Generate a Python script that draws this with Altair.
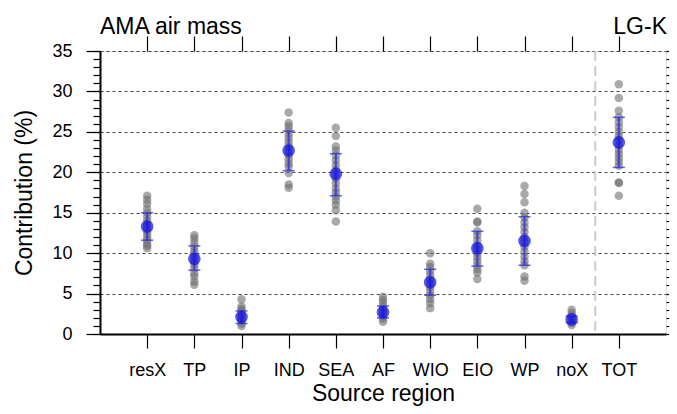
import altair as alt
import pandas as pd

regions = ["resX", "TP", "IP", "IND", "SEA", "AF", "WIO", "EIO", "WP", "noX", "TOT"]

resX = [17.1, 16.6, 16.1, 15.5, 15.0, 14.5, 14.0, 13.6, 13.2, 12.8, 12.4, 12.0, 11.6, 11.2, 10.9, 10.6]
TP = [12.2, 11.8, 11.3, 10.8, 10.3, 9.9, 9.4, 9.0, 8.6, 8.1, 7.5, 7.1, 6.5, 6.1]
IP = [4.3, 3.4, 3.1, 2.8, 2.5, 2.2, 1.9, 1.6, 1.3, 1.0]
IND = [27.4, 26.1, 25.7, 25.2, 24.7, 24.2, 23.7, 23.2, 22.6, 22.1, 21.6, 21.1, 20.7, 19.9, 18.5, 18.1]
SEA = [25.5, 24.5, 23.2, 22.7, 22.1, 21.5, 20.9, 20.3, 19.8, 19.2, 18.6, 18.0, 17.5, 17.0, 16.5, 16.0, 15.3, 13.9]
AF = [4.6, 4.2, 3.8, 3.4, 3.1, 2.8, 2.5, 2.2, 1.9, 1.5]
WIO = [10.0, 8.7, 8.3, 7.8, 7.3, 6.8, 6.3, 5.8, 5.3, 4.8, 4.3, 3.8, 3.2]
EIO = [15.5, 13.9, 13.8, 12.7, 12.2, 11.6, 11.0, 10.5, 10.0, 9.5, 9.0, 8.5, 8.0, 7.6, 6.8]
WP = [18.3, 17.3, 16.3, 15.0, 14.4, 13.8, 13.2, 12.6, 12.0, 11.4, 10.8, 10.2, 9.6, 9.0, 8.5, 7.1, 6.6]
noX = [3.0, 2.6, 2.3, 2.0, 1.7, 1.4, 1.1]
TOT = [30.9, 29.2, 27.6, 26.8, 26.2, 25.6, 25.0, 24.5, 24.0, 23.3, 22.8, 22.3, 21.8, 21.3, 20.8, 18.7, 18.7, 17.1]

means = [13.3, 9.3, 2.1, 22.7, 19.8, 2.7, 6.4, 10.6, 11.5, 1.8, 23.7]
err_lo = [11.6, 7.9, 1.3, 20.2, 17.1, 2.0, 4.8, 8.4, 8.5, 1.4, 20.6]
err_hi = [15.0, 10.9, 2.85, 25.1, 22.3, 3.45, 8.0, 12.7, 14.5, 2.2, 26.8]

y_ticks = [0, 5, 10, 15, 20, 25, 30, 35]
y_minor = list(range(0, 36))
title_left = "AMA air mass"
title_right = "LG-K"

members = [resX, TP, IP, IND, SEA, AF, WIO, EIO, WP, noX, TOT]
rows = []
for i, vals in enumerate(members):
    for v in vals:
        rows.append({"pos": i + 1, "value": v})
pts = pd.DataFrame(rows)
stats = pd.DataFrame({"pos": list(range(1, 12)), "mean": means, "lo": err_lo, "hi": err_hi})

W, H = 566, 283
FONT = "Liberation Sans"
xscale = alt.Scale(domain=[0, 12], nice=False, zero=False)
yscale = alt.Scale(domain=[0, 35], nice=False, zero=False)
label_expr = "[" + ",".join("'%s'" % r for r in regions) + "][round(datum.value)-1]"

points = alt.Chart(pts).mark_circle(size=72, color="#707070", opacity=0.6).encode(
    x=alt.X("pos:Q", scale=xscale, axis=alt.Axis(
        orient="bottom", values=list(range(1, 12)), labelExpr=label_expr,
        title="Source region", titleFontSize=23, titleFont=FONT, titleFontWeight="normal",
        titlePadding=3, labelFontSize=18, labelFont=FONT, labelPadding=13,
        tickSize=14, tickColor="black", tickWidth=1.2, domainColor="black", domainWidth=2,
        grid=False, labelColor="black", titleColor="black")),
    y=alt.Y("value:Q", scale=yscale, axis=alt.Axis(
        orient="left", values=y_ticks, title="Contribution (%)", titleFontSize=23,
        titleFont=FONT, titleFontWeight="normal", titlePadding=15, labelFontSize=18,
        labelFont=FONT, labelPadding=14, tickSize=14, tickColor="black", tickWidth=1.2,
        domainColor="black", domainWidth=2, grid=True, gridDash=[3, 3],
        gridColor="#444444", gridWidth=1, labelColor="black", titleColor="black")),
)

bars = alt.Chart(stats).mark_rule(color="#2b2bf0", strokeWidth=2, opacity=0.75).encode(
    x=alt.X("pos:Q", scale=xscale, axis=alt.Axis(
        orient="top", values=list(range(1, 12)), labels=False, title=None,
        tickSize=15, tickColor="black", tickWidth=1.2, domain=False, grid=False)),
    y=alt.Y("lo:Q", scale=yscale, axis=alt.Axis(
        orient="right", values=y_minor, labels=False, title=None, tickSize=8,
        tickColor="black", tickWidth=1.2, domain=False, grid=False)),
    y2="hi:Q",
)

caps_lo = alt.Chart(stats).mark_tick(orient="horizontal", color="#2b2bf0", size=12,
                                     thickness=1.5, opacity=0.75).encode(
    x=alt.X("pos:Q", scale=xscale, axis=None),
    y=alt.Y("lo:Q", scale=yscale, axis=alt.Axis(
        orient="left", values=y_minor, labels=False, title=None, tickSize=7,
        tickColor="black", tickWidth=1.2, domain=False, grid=False)),
)
caps_hi = alt.Chart(stats).mark_tick(orient="horizontal", color="#2b2bf0", size=12,
                                     thickness=1.5, opacity=0.75).encode(
    x=alt.X("pos:Q", scale=xscale, axis=None),
    y=alt.Y("hi:Q", scale=yscale, axis=None),
)

mean_pts = alt.Chart(stats).mark_circle(size=160, color="#1010e8", opacity=0.7).encode(
    x=alt.X("pos:Q", scale=xscale, axis=None),
    y=alt.Y("mean:Q", scale=yscale, axis=None),
)

sep = alt.Chart(pd.DataFrame({"sx": [10.5]})).mark_rule(
    color="#cccccc", strokeWidth=2, strokeDash=[10, 5]).encode(
    x=alt.X("sx:Q", scale=xscale, axis=None),
)

t_left = alt.Chart(pd.DataFrame({"t": [title_left]})).mark_text(
    align="left", baseline="alphabetic", fontSize=23, font=FONT, color="black").encode(
    text="t:N", x=alt.value(0), y=alt.value(-17))
t_right = alt.Chart(pd.DataFrame({"t": [title_right]})).mark_text(
    align="right", baseline="alphabetic", fontSize=23, font=FONT, color="black").encode(
    text="t:N", x=alt.value(W + 1), y=alt.value(-17))

chart = alt.layer(sep, points, bars, caps_lo, caps_hi, mean_pts, t_left, t_right).resolve_axis(
    x="independent", y="independent"
).properties(
    width=W, height=H,
    autosize=alt.AutoSizeParams(type="none"),
    padding={"left": 92, "top": 43, "right": 3, "bottom": 72},
).configure_view(stroke="black", strokeWidth=1.5).configure(background="white")

chart.save("out.html", embed_options={"renderer": "svg", "actions": False})
